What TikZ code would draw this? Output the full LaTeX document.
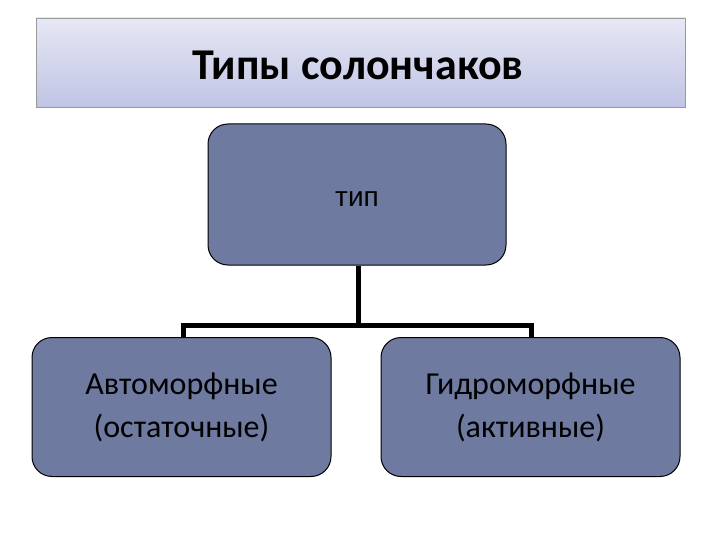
\documentclass[tikz,border=0pt]{standalone}
\usepackage{fontspec}
\setmainfont{Carlito}
\newfontfamily\arialfont{Liberation Sans}
\begin{document}
\begin{tikzpicture}[x=1pt,y=-1pt,
  box/.style={draw=black, line width=1pt, fill=boxfill, rounded corners=20pt, inner sep=0pt, align=center, text=black},
  link/.style={line width=5pt, draw=black}]
\definecolor{boxfill}{HTML}{6E7AA0}
\definecolor{titletop}{HTML}{E6E8F4}
\definecolor{titlebot}{HTML}{C0C4E4}
\useasboundingbox (0,0) rectangle (720,540);
\node[draw=gray!80, line width=0.8pt, top color=titletop, bottom color=titlebot, minimum width=649pt, minimum height=89pt, inner sep=0pt] (title) at (360.5,62.5) {};
\node[font=\bfseries\fontsize{44}{50}\selectfont] (titletext) at (358,65) {Типы солончаков};
\node[box, minimum width=298pt, minimum height=141pt, text height=24pt, text depth=0pt, font=\arialfont\fontsize{28}{32}\selectfont] (top) at (357,194.5) {тип};
\node[box, minimum width=299pt, minimum height=139pt, font=\fontsize{32}{43}\selectfont] (left) at (181.5,407) {Автоморфные\\(остаточные)};
\node[box, minimum width=299pt, minimum height=139pt, font=\fontsize{32}{43}\selectfont] (right) at (530.5,407) {Гидроморфные\\(активные)};
\coordinate (junc) at (358,325);
\draw[link] (top.south -| junc) -- (junc);
\draw[link] (junc) -- (183,325) -- (183,337);
\draw[link] (junc) -- (531,325) -- (531,337);
\end{tikzpicture}
\end{document}
